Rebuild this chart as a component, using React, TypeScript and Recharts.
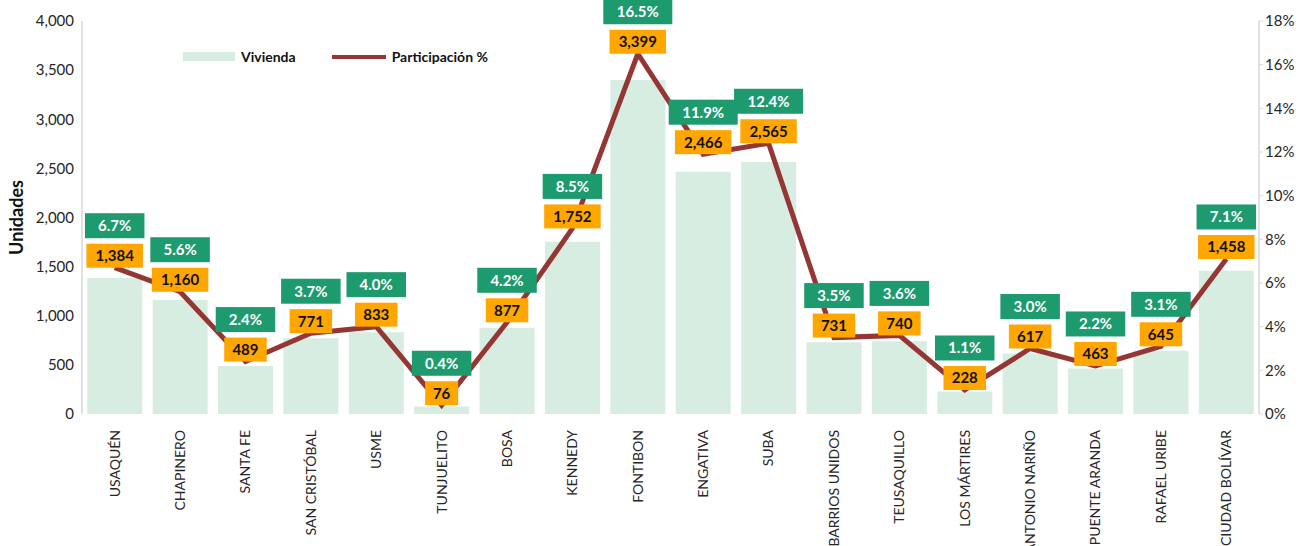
import React from "react";
import {
  ComposedChart,
  Bar,
  Line,
  XAxis,
  YAxis,
  LabelList,
} from "recharts";

const localidades = [
  "USAQUÉN",
  "CHAPINERO",
  "SANTA FE",
  "SAN CRISTÓBAL",
  "USME",
  "TUNJUELITO",
  "BOSA",
  "KENNEDY",
  "FONTIBON",
  "ENGATIVA",
  "SUBA",
  "BARRIOS UNIDOS",
  "TEUSAQUILLO",
  "LOS MÁRTIRES",
  "ANTONIO NARIÑO",
  "PUENTE ARANDA",
  "RAFAEL URIBE",
  "CIUDAD BOLÍVAR",
];

const vivienda = [1384, 1160, 489, 771, 833, 76, 877, 1752, 3399, 2466, 2565, 731, 740, 228, 617, 463, 645, 1458];

const participacion = [6.7, 5.6, 2.4, 3.7, 4.0, 0.4, 4.2, 8.5, 16.5, 11.9, 12.4, 3.5, 3.6, 1.1, 3.0, 2.2, 3.1, 7.1];

const leftTicks = [0, 500, 1000, 1500, 2000, 2500, 3000, 3500, 4000];
const rightTicks = [0, 2, 4, 6, 8, 10, 12, 14, 16, 18];

const data = localidades.map((name, i) => ({
  name,
  vivienda: vivienda[i],
  pct: participacion[i],
}));

const FONT = "Lato, 'Open Sans', sans-serif";
const BAR_COLOR = "#d7ede1";
const LINE_COLOR = "#943634";
const GREEN = "#1e9a6f";
const ORANGE = "#ffa600";

function textWidth(text: string) {
  let w = 0;
  for (const ch of text) {
    if (ch === "," || ch === ".") w += 4.5;
    else if (ch === "%") w += 14;
    else w += 9.5;
  }
  return w;
}

const BoxLabel = (props: any) => {
  const { x, y, value, kind } = props;
  const isPct = kind === "pct";
  const text = isPct ? `${Number(value).toFixed(1)}%` : Number(value).toLocaleString("en-US");
  const w = textWidth(text) + (isPct ? 22 : 14);
  const h = isPct ? 25 : 24;
  const cy = isPct ? y - 42 : y - 12;
  return (
    <g>
      <rect x={x - w / 2} y={cy - h / 2} width={w} height={h} fill={isPct ? GREEN : ORANGE} />
      <text
        x={x}
        y={cy}
        dy="0.36em"
        textAnchor="middle"
        fontFamily={FONT}
        fontWeight={700}
        fontSize={15}
        fill={isPct ? "#ffffff" : "#111111"}
      >
        {text}
      </text>
    </g>
  );
};

const XTick = (props: any) => {
  const { x, y, payload } = props;
  return (
    <text
      transform={`translate(${x},${y + 8}) rotate(-90)`}
      dy="0.35em"
      textAnchor="end"
      fontFamily={FONT}
      fontSize={14}
      fill="#262626"
    >
      {payload.value}
    </text>
  );
};

export default function App() {
  return (
    <div style={{ position: "absolute", top: 0, left: 0, width: 1304, height: 546, background: "#fff" }}>
      <ComposedChart
        width={1304}
        height={546}
        data={data}
        margin={{ top: 21, right: 0, bottom: 0, left: 0 }}
        barCategoryGap="8%"
      >
        <XAxis
          dataKey="name"
          axisLine={false}
          tickLine={false}
          interval={0}
          height={132}
          tick={<XTick />}
        />
        <YAxis
          yAxisId="left"
          width={82}
          domain={[0, 4000]}
          ticks={leftTicks}
          tickFormatter={(v: number) => v.toLocaleString("en-US")}
          axisLine={{ stroke: "#d9d9d9", strokeWidth: 1.5 }}
          tickLine={false}
          tick={{ fontFamily: FONT, fontSize: 15, fill: "#262626" }}
          label={{
            value: "Unidades",
            angle: -90,
            position: "center",
            dx: -24,
            style: { fontFamily: FONT, fontWeight: 700, fontSize: 18, fill: "#111" },
          }}
        />
        <YAxis
          yAxisId="right"
          orientation="right"
          width={45}
          domain={[0, 18]}
          ticks={rightTicks}
          tickFormatter={(v: number) => `${v}%`}
          axisLine={{ stroke: "#d9d9d9", strokeWidth: 1.5 }}
          tickLine={{ stroke: "#d9d9d9" }}
          tickSize={4}
          tick={{ fontFamily: FONT, fontSize: 15, fill: "#262626" }}
        />
        <Bar yAxisId="left" dataKey="vivienda" name="Vivienda" fill={BAR_COLOR} isAnimationActive={false} />
        <Line
          yAxisId="right"
          dataKey="pct"
          name="Participación %"
          stroke={LINE_COLOR}
          strokeWidth={5}
          dot={false}
          activeDot={false}
          isAnimationActive={false}
        >
          <LabelList dataKey="pct" content={(p: any) => <BoxLabel {...p} kind="pct" />} />
          <LabelList dataKey="vivienda" content={(p: any) => <BoxLabel {...p} kind="val" />} />
        </Line>
      </ComposedChart>
      {/* legend drawn by hand so it sits inside the plot like the original */}
      <div
        style={{
          position: "absolute",
          top: 48,
          left: 183,
          display: "flex",
          alignItems: "center",
          fontFamily: FONT,
          fontWeight: 700,
          fontSize: 14,
          color: "#111",
        }}
      >
        <span style={{ display: "inline-block", width: 52, height: 9, background: BAR_COLOR, marginRight: 6 }} />
        <span style={{ marginRight: 36 }}>Vivienda</span>
        <span style={{ display: "inline-block", width: 54, height: 4, background: LINE_COLOR, marginRight: 6 }} />
        <span>Participación %</span>
      </div>
    </div>
  );
}
